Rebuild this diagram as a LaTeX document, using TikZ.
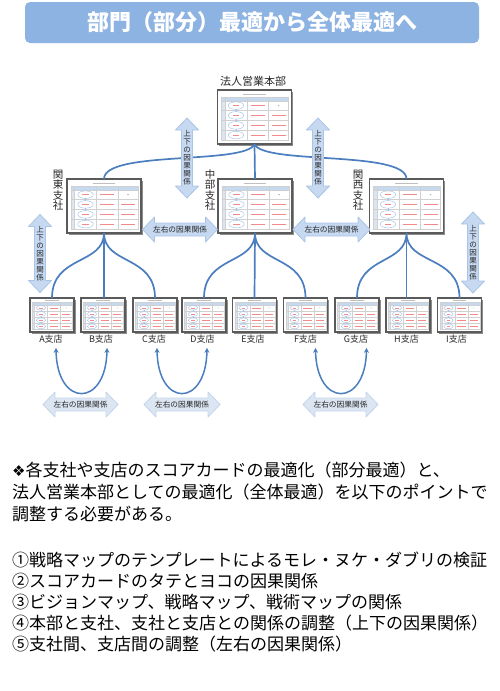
\documentclass[tikz,border=0pt]{standalone}
\usepackage{fontspec}
\setmainfont{Noto Sans CJK JP}
\newfontfamily\dejavu{DejaVu Sans}
\usetikzlibrary{arrows.meta,shadows}
\definecolor{titlebg}{HTML}{8DB3E2}
\definecolor{treeline}{HTML}{4A7EBF}
\definecolor{arrfill}{HTML}{C6D9F1}
\definecolor{arredge}{HTML}{A9C4E6}
\definecolor{arrfilllight}{HTML}{DCE6F2}
\definecolor{arredgelight}{HTML}{C3D5EC}
\definecolor{cardframe}{HTML}{5A5A5A}
\definecolor{hdrblue}{HTML}{C5D9F1}
\definecolor{sideblue}{HTML}{DCE6F2}
\definecolor{gridgray}{HTML}{D0D0D0}
\definecolor{ellblue}{HTML}{9DBEE6}
\definecolor{cardred}{HTML}{F28A8A}
\definecolor{labeltext}{HTML}{262626}

\newcommand\cardin[3]{%
\begin{scope}[shift={(#1.center)}, x=#2, y=#3]
  \draw[gray!50, line width=0.3pt] (-0.3,-0.86) -- (0.3,-0.86);
  \fill[hdrblue] (-0.9,-0.75) rectangle (0.92,-0.6);
  \fill[sideblue] (-0.9,-0.6) rectangle (-0.8,0.85);
  \draw[gridgray, line width=0.3pt] (-0.9,-0.75) rectangle (0.92,0.85);
  \foreach \xx in {-0.8,-0.2,0.38} \draw[gridgray, line width=0.3pt] (\xx,-0.75) -- (\xx,0.85);
  \foreach \yy in {-0.6,-0.2375,0.125,0.4875} \draw[gridgray, line width=0.3pt] (-0.9,\yy) -- (0.92,\yy);
  \foreach \ya/\yb in {-0.28/-0.2,0.08/0.17,0.45/0.53} \draw[ellblue, line width=0.3pt] (-0.5,\ya) -- (-0.5,\yb);
  \foreach \yy in {-0.42,-0.06,0.31,0.67} {
    \draw[ellblue, line width=0.4pt, fill=white] (-0.5,\yy) ellipse [x radius=0.21, y radius=0.14];
    \draw[cardred, line width=0.4pt] (-0.59,\yy) -- (-0.41,\yy);
    \draw[cardred, line width=0.4pt] (-0.1,\yy) -- (0.28,\yy);
  }
  \foreach \yy in {-0.06,0.31,0.67} \draw[cardred, line width=0.4pt] (0.46,\yy) -- (0.84,\yy);
  \fill[gray!60] (0.65,-0.42) circle [radius=0.025];
\end{scope}}

\begin{document}
\begin{tikzpicture}[x=1pt, y=-1pt,
  titlebar/.style={fill=titlebg, rounded corners=5pt, minimum width=454pt, minimum height=41pt,
    inner sep=0pt, text=white, font=\bfseries\fontsize{22}{22}\selectfont},
  cardbase/.style={draw=cardframe, line width=1.3pt, fill=white, inner sep=0pt, outer sep=0pt,
    drop shadow={shadow xshift=1.5pt, shadow yshift=-1.5pt, opacity=0.45, fill=black}},
  bigcard/.style={cardbase, minimum width=74pt, minimum height=54pt},
  smallcard/.style={cardbase, minimum width=44pt, minimum height=34pt},
  tree/.style={draw=treeline, line width=1.7pt},
  uarrow/.style={draw=treeline, line width=1.5pt, {Stealth[length=5pt,width=5pt]}-{Stealth[length=5pt,width=5pt]}},
  arrowbox/.style={fill=arrfill, draw=arredge, line width=0.8pt, line join=round},
  arrowboxlight/.style={fill=arrfilllight, draw=arredgelight, line width=0.8pt, line join=round},
  vtext/.style={inner sep=0pt, align=center, text=labeltext, font=\fontsize{7.5}{8}\selectfont},
  htext/.style={inner sep=0pt, text=labeltext, font=\fontsize{7.7}{8}\selectfont},
  toplabel/.style={inner sep=0pt, text=labeltext, font=\fontsize{11}{11}\selectfont},
  vlabel/.style={inner sep=0pt, align=center, text=labeltext, font=\fontsize{10.5}{10.5}\selectfont},
  blabel/.style={inner sep=1pt, text=labeltext, font=\fontsize{9}{9}\selectfont},
  bodytext/.style={inner sep=0pt, anchor=west, text=black, font=\fontsize{17}{20}\selectfont},
  hdbl/.pic={\path[pic actions] (-#1,0) -- ({-#1+12},-12.5) -- ({-#1+12},-6.5) -- ({#1-12},-6.5) -- ({#1-12},-12.5) -- (#1,0) -- ({#1-12},12.5) -- ({#1-12},6.5) -- ({-#1+12},6.5) -- ({-#1+12},12.5) -- cycle;},
  vdbl/.pic={\path[pic actions] (0,-#1) -- (11.5,{-#1+12}) -- (5.5,{-#1+12}) -- (5.5,{#1-12}) -- (11.5,{#1-12}) -- (0,#1) -- (-11.5,{#1-12}) -- (-5.5,{#1-12}) -- (-5.5,{-#1+12}) -- (-11.5,{-#1+12}) -- cycle;}
]
\useasboundingbox (0,0) rectangle (500,691);

% title
\node[titlebar] (title) at (252,22.5) {部門（部分）最適から全体最適へ};

% cards
\node[bigcard] (hq) at (254.5,117) {};
\node[bigcard] (kanto) at (104,206) {};
\node[bigcard] (chubu) at (255,206) {};
\node[bigcard] (kansai) at (406.5,206) {};
\node[smallcard] (A) at (52,315) {};
\node[smallcard] (B) at (103,315) {};
\node[smallcard] (C) at (155,315) {};
\node[smallcard] (D) at (204,315) {};
\node[smallcard] (E) at (254.5,315) {};
\node[smallcard] (F) at (305.5,315) {};
\node[smallcard] (G) at (357,315) {};
\node[smallcard] (H) at (408,315) {};
\node[smallcard] (I) at (459.5,315) {};
\foreach \n in {hq,kanto,chubu,kansai} {\cardin{\n}{37pt}{-27pt}}
\foreach \n in {A,B,C,D,E,F,G,H,I} {\cardin{\n}{22pt}{-17pt}}

% tree connectors
\draw[tree] (hq.south) .. controls +(-8,21) and +(0,-29) .. (kanto.north);
\draw[tree] (hq.south) -- (chubu.north);
\draw[tree] (hq.south) .. controls +(8,21) and +(0,-29) .. (kansai.north);
\draw[tree] (kanto.south) .. controls +(0,32) and +(0,-43) .. (A.north);
\draw[tree] (kanto.south) -- (kanto.south |- B.north);
\draw[tree] (kanto.south) .. controls +(0,32) and +(0,-43) .. (C.north);
\draw[tree] (chubu.south) .. controls +(0,32) and +(0,-43) .. (D.north);
\draw[tree] (chubu.south) -- (E.north);
\draw[tree] (chubu.south) .. controls +(0,32) and +(0,-43) .. (F.north);
\draw[tree] (kansai.south) .. controls +(0,32) and +(0,-43) .. (G.north);
\draw[tree] (kansai.south) -- (kansai.south |- H.north);
\draw[tree] (kansai.south) .. controls +(0,32) and +(0,-43) .. (I.north);

% labels
\node[toplabel] (hqlabel) at (253,81) {法人営業本部};
\node[vlabel] (kantolabel) at (58,190) {関\\東\\支\\社};
\node[vlabel] (chubulabel) at (210,190) {中\\部\\支\\社};
\node[vlabel] (kansailabel) at (358,190) {関\\西\\支\\社};
\node[blabel] (Alabel) at (51,339) {A支店};
\node[blabel] (Blabel) at (101,339) {B支店};
\node[blabel] (Clabel) at (154,339) {C支店};
\node[blabel] (Dlabel) at (202.5,339) {D支店};
\node[blabel] (Elabel) at (253,339) {E支店};
\node[blabel] (Flabel) at (305.5,339) {F支店};
\node[blabel] (Glabel) at (356,339) {G支店};
\node[blabel] (Hlabel) at (406.5,339) {H支店};
\node[blabel] (Ilabel) at (456.5,339) {I支店};

% vertical double arrows
\pic[arrowbox] at (187,158) {vdbl=40};
\pic[arrowbox] at (318,158) {vdbl=40};
\pic[arrowbox] at (40,253.5) {vdbl=39};
\pic[arrowbox] at (473,252.5) {vdbl=40.5};
\node[vtext] (v1) at (187,158) {上\\下\\の\\因\\果\\関\\係};
\node[vtext] (v2) at (318,158) {上\\下\\の\\因\\果\\関\\係};
\node[vtext] (v3) at (40,253.5) {上\\下\\の\\因\\果\\関\\係};
\node[vtext] (v4) at (473,252.5) {上\\下\\の\\因\\果\\関\\係};

% horizontal double arrows
\pic[arrowbox] at (180,229.5) {hdbl=37.5};
\pic[arrowbox] at (331.5,229.5) {hdbl=38.5};
\pic[arrowboxlight] at (80.5,404.5) {hdbl=37.5};
\pic[arrowboxlight] at (182,404.5) {hdbl=38};
\pic[arrowboxlight] at (340.5,404.5) {hdbl=37.5};
\node[htext] (h1) at (180,229.5) {左右の因果関係};
\node[htext] (h2) at (331.5,229.5) {左右の因果関係};
\node[htext] (h3) at (80.5,404.5) {左右の因果関係};
\node[htext] (h4) at (182,404.5) {左右の因果関係};
\node[htext] (h5) at (340.5,404.5) {左右の因果関係};

% U arrows
\draw[uarrow] ([xshift=5pt,yshift=-3.5pt]Alabel.south) .. controls +(1,60) and +(-1,60) .. ([xshift=6pt,yshift=-3.5pt]Blabel.south);
\draw[uarrow] ([xshift=3pt,yshift=-3.5pt]Clabel.south) .. controls +(1,60) and +(-1,60) .. ([xshift=4.5pt,yshift=-3.5pt]Dlabel.south);
\draw[uarrow] ([xshift=10pt,yshift=-3.5pt]Flabel.south) .. controls +(1,60) and +(-1,60) .. ([xshift=10.5pt,yshift=-3.5pt]Glabel.south);

% body text
\node[bodytext] (t1) at (12,470) {{\dejavu\fontsize{15}{15}\selectfont ❖}各支社や支店のスコアカードの最適化（部分最適）と、};
\node[bodytext] (t2) at (12,492) {法人営業本部としての最適化（全体最適）を以下のポイントで};
\node[bodytext] (t3) at (12,514) {調整する必要がある。};
\node[bodytext] (l1) at (12,560) {①戦略マップのテンプレートによるモレ・ヌケ・ダブリの検証};
\node[bodytext] (l2) at (12,581) {②スコアカードのタテとヨコの因果関係};
\node[bodytext] (l3) at (12,602) {③ビジョンマップ、戦略マップ、戦術マップの関係};
\node[bodytext] (l4) at (12,623) {④本部と支社、支社と支店との関係の調整（上下の因果関係）};
\node[bodytext] (l5) at (12,644) {⑤支社間、支店間の調整（左右の因果関係）};
\end{tikzpicture}
\end{document}
